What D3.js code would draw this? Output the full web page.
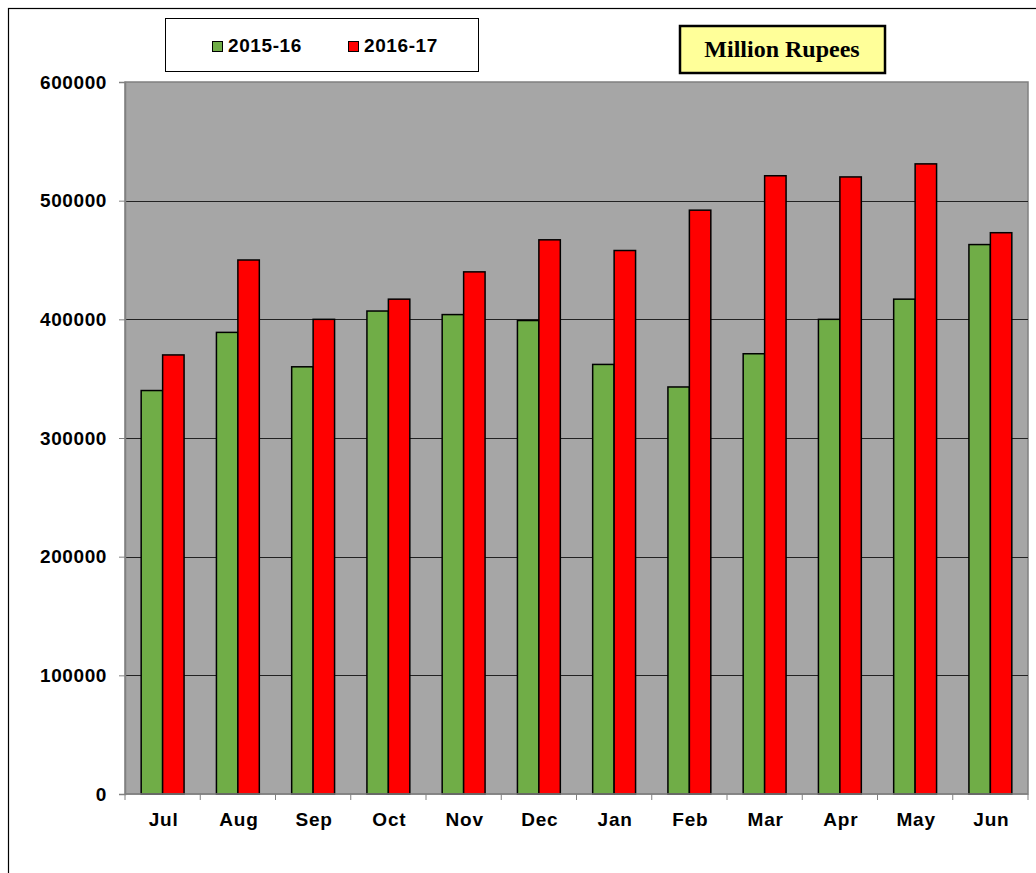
<!DOCTYPE html>
<html lang="en">
<head>
<meta charset="utf-8">
<title>Million Rupees</title>
<script src="https://cdn.jsdelivr.net/npm/d3@7"></script>
<style>
  body { margin: 0; background: #fff; }
  text { font-family: "Liberation Sans", Arial, sans-serif; font-weight: bold; fill: #000; }
</style>
</head>
<body>
<div id="chart"></div>
<script>
var months = ["Jul", "Aug", "Sep", "Oct", "Nov", "Dec", "Jan", "Feb", "Mar", "Apr", "May", "Jun"];
var series = ["2015-16", "2016-17"];
var values1516 = [340000, 389000, 360000, 407000, 404000, 399000, 362000, 343000, 371000, 400000, 417000, 463000];
var values1617 = [370000, 450000, 400000, 417000, 440000, 467000, 458000, 492000, 521000, 520000, 531000, 473000];
var yTicks = [0, 100000, 200000, 300000, 400000, 500000, 600000];
var colors = ["#70ad47", "#ff0000"];

var width = 1036, height = 873;
var pLeft = 125, pRight = 1028, pTop = 82, pBottom = 794;

var svg = d3.select("#chart").append("svg")
    .attr("width", width)
    .attr("height", height);

// outer frame
svg.append("rect")
    .attr("x", 8.5).attr("y", 8.5)
    .attr("width", 1040).attr("height", 900)
    .attr("fill", "none").attr("stroke", "#000").attr("stroke-width", 1.2);

var x = d3.scaleBand().domain(months).range([pLeft, pRight]).paddingInner(0.43).paddingOuter(0.215);
var xs = d3.scaleBand().domain(series).range([0, x.bandwidth()]);
var y = d3.scaleLinear().domain([0, 600000]).range([pBottom, pTop]);

svg.append("rect")
    .attr("x", pLeft).attr("y", pTop)
    .attr("width", pRight - pLeft).attr("height", pBottom - pTop)
    .attr("fill", "#a6a6a6").attr("stroke", "#808080").attr("stroke-width", 1.5);

// gridlines
svg.append("g").selectAll("line")
    .data(yTicks.filter(function(d) { return d > 0 && d < 600000; }))
  .enter().append("line")
    .attr("x1", pLeft).attr("x2", pRight)
    .attr("y1", function(d) { return Math.round(y(d)) + 0.5; })
    .attr("y2", function(d) { return Math.round(y(d)) + 0.5; })
    .attr("stroke", "#222").attr("stroke-width", 1);

var rows = months.map(function(m, i) {
  return { month: m, vals: [values1516[i], values1617[i]] };
});

var groups = svg.append("g").selectAll("g")
    .data(rows)
  .enter().append("g")
    .attr("transform", function(d) { return "translate(" + x(d.month) + ",0)"; });

groups.selectAll("rect")
    .data(function(d) { return d.vals.map(function(v, i) { return { s: series[i], v: v, i: i }; }); })
  .enter().append("rect")
    .attr("x", function(d) { return xs(d.s); })
    .attr("width", xs.bandwidth())
    .attr("y", function(d) { return y(d.v); })
    .attr("height", function(d) { return pBottom - y(d.v); })
    .attr("fill", function(d) { return colors[d.i]; })
    .attr("stroke", "#000").attr("stroke-width", 1.5);

// y axis
var yAxis = d3.axisLeft(y).tickValues(yTicks).tickSize(6).tickPadding(12).tickFormat(d3.format("d"));
var gy = svg.append("g").attr("transform", "translate(" + pLeft + ",0)").call(yAxis);
gy.select(".domain").attr("stroke", "#808080").attr("stroke-width", 1.5);
gy.selectAll(".tick line").attr("stroke", "#808080");
gy.selectAll("text")
    .style("font-size", "19px")
    .style("font-family", "'Liberation Sans', Arial, sans-serif")
    .style("font-weight", "bold")
    .style("letter-spacing", "0.6px")
    .attr("fill", "#000");

// x axis: ticks at category boundaries
var gx = svg.append("g").attr("transform", "translate(0," + pBottom + ")");
gx.append("line").attr("x1", pLeft).attr("x2", pRight).attr("stroke", "#808080").attr("stroke-width", 1.5);
var step = (pRight - pLeft) / months.length;
gx.selectAll("line.tk")
    .data(d3.range(months.length + 1))
  .enter().append("line").attr("class", "tk")
    .attr("x1", function(d) { return pLeft + d * step; })
    .attr("x2", function(d) { return pLeft + d * step; })
    .attr("y1", 0).attr("y2", 6)
    .attr("stroke", "#808080");
gx.selectAll("text")
    .data(months)
  .enter().append("text")
    .attr("x", function(d) { return x(d) + x.bandwidth() / 2 + 1; })
    .attr("y", 32)
    .attr("text-anchor", "middle")
    .style("font-size", "19px")
    .style("letter-spacing", "0.8px")
    .text(function(d) { return d; });

// legend
var lg = svg.append("g");
lg.append("rect").attr("x", 165.5).attr("y", 18.5).attr("width", 313).attr("height", 53)
    .attr("fill", "#fff").attr("stroke", "#000").attr("stroke-width", 1);
var lgX = [212, 348];
series.forEach(function(s, i) {
  lg.append("rect").attr("x", lgX[i] + 0.5).attr("y", 41.5).attr("width", 10).attr("height", 10)
      .attr("fill", colors[i]).attr("stroke", "#000").attr("stroke-width", 1);
  lg.append("text").attr("x", lgX[i] + 16).attr("y", 52)
      .style("font-size", "19px").style("letter-spacing", "0.6px").text(s);
});

// unit box
svg.append("rect").attr("x", 680).attr("y", 26).attr("width", 205).attr("height", 47)
    .attr("fill", "#ffff99").attr("stroke", "#000").attr("stroke-width", 2.5);
svg.append("text").attr("x", 782).attr("y", 57).attr("text-anchor", "middle")
    .style("font-family", "'Liberation Serif', 'Times New Roman', serif")
    .style("font-size", "24px")
    .text("Million Rupees");
</script>
</body>
</html>
